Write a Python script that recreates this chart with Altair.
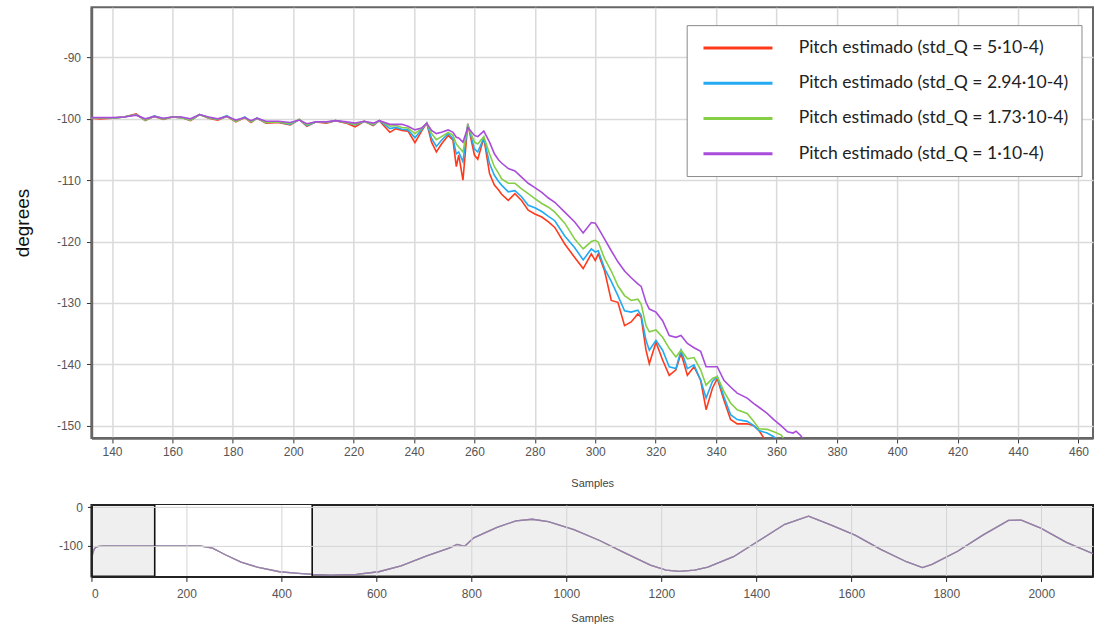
import altair as alt
import pandas as pd

# ---------------- data ----------------
samples = [133, 136, 140, 144, 148, 151, 154, 157, 160, 163, 166, 169, 172, 175, 178, 181, 184, 186, 188, 191,
           195, 199, 202, 204.5, 207.5, 211, 214, 217.5, 220.5, 223.5, 226.5, 228.5,
           232, 234, 236, 238, 240.3, 242.5, 244.2, 245.8, 247.4, 249.1,
           251.3, 252.9, 254, 254.8, 256.2, 257.8, 260, 261.1, 263.1, 265,
           266.6, 268, 269, 271.2, 273.4, 275.6, 277.8, 280, 282.3, 284.5,
           286.6, 289.9, 293.2, 296, 298.7, 300, 301, 303.1, 305.3, 307.5,
           309.7, 311.9, 314.1, 315.2, 316.8, 317.9, 320.1, 322.3, 324.5, 326.7,
           328.4, 330.5, 332.7, 334.9, 336.7, 338.8, 340.4, 342.6, 344.8, 347,
           350.3, 352.5, 354.2, 356.9, 359.1, 361.5, 363.7, 365.5, 366.5, 368, 370]

pitch_q5e4 = [-99.9, -100.0, -99.9, -99.7, -99.2, -100.3, -99.6, -100.1, -99.7, -99.8, -100.3, -99.3, -99.9, -100.2, -99.6, -100.5,
              -99.8, -100.6, -99.9, -100.7, -100.6, -101.0, -100.1, -101.2, -100.5, -100.7, -100.3, -100.7, -101.3, -100.4, -101.1, -100.3,
              -102.2, -101.6, -101.9, -102.0, -103.9, -102.0, -100.7, -103.8, -105.4, -104.1,
              -102.7, -103.5, -107.8, -105.9, -110.0, -100.8, -105.9, -106.6, -103.1, -108.9,
              -110.8, -111.6, -112.3, -113.3, -112.2, -113.3, -114.9, -115.5, -116.0, -116.8,
              -117.7, -120.4, -122.6, -124.4, -122.0, -123.1, -122.0, -124.8, -129.6, -129.9,
              -133.7, -133.1, -131.8, -132.3, -137.7, -139.9, -136.4, -139.3, -141.8, -140.9,
              -138.2, -141.8, -140.4, -142.6, -147.4, -143.9, -142.3, -145.8, -149.0, -149.7,
              -149.7, -150.0, -150.8, -152.8, -154.0, -155.0, -156.0, -157.0, -157.5, -158.0, -159.0]

pitch_q294e4 = [-99.9, -99.9, -99.9, -99.7, -99.3, -100.2, -99.5, -100.0, -99.7, -99.8, -100.2, -99.3, -99.8, -100.1, -99.5, -100.4,
                -99.7, -100.5, -99.9, -100.6, -100.5, -100.9, -100.1, -101.1, -100.5, -100.6, -100.3, -100.6, -101.0, -100.4, -101.0, -100.3,
                -101.6, -101.4, -101.7, -101.8, -103.1, -101.8, -100.7, -103.2, -104.5, -103.5,
                -102.4, -103.2, -105.7, -105.4, -107.0, -100.9, -104.9, -105.4, -103.1, -107.3,
                -109.2, -110.2, -110.8, -111.9, -111.7, -112.7, -114.1, -114.5, -115.1, -115.9,
                -116.6, -119.1, -121.0, -123.0, -121.2, -121.7, -121.5, -124.4, -126.5, -128.8,
                -131.3, -131.5, -131.2, -132.0, -136.1, -137.7, -136.1, -137.7, -140.4, -140.7,
                -137.7, -140.7, -140.1, -142.6, -145.5, -142.8, -142.0, -145.3, -148.2, -149.0,
                -149.3, -150.0, -150.8, -151.2, -151.8, -153.0, -154.0, -155.0, -155.5, -156.0, -157.0]

pitch_q173e4 = [-99.9, -99.9, -99.9, -99.7, -99.3, -100.2, -99.6, -100.0, -99.7, -99.8, -100.2, -99.3, -99.8, -100.1, -99.6, -100.4,
                -99.8, -100.5, -99.9, -100.6, -100.5, -100.8, -100.1, -101.0, -100.5, -100.6, -100.3, -100.6, -100.9, -100.4, -100.9, -100.3,
                -101.2, -101.1, -101.4, -101.5, -102.4, -101.6, -100.7, -102.4, -103.4, -102.9,
                -102.2, -102.7, -104.1, -104.6, -105.4, -101.1, -103.8, -104.1, -102.9, -105.7,
                -107.8, -108.9, -109.8, -110.5, -110.5, -111.4, -112.2, -113.0, -113.8, -114.4,
                -115.2, -117.0, -119.6, -121.2, -120.0, -119.8, -120.1, -122.8, -124.8, -127.2,
                -128.8, -129.6, -129.4, -130.2, -133.7, -134.7, -134.4, -135.6, -137.4, -138.8,
                -137.7, -139.1, -138.9, -140.9, -143.4, -142.3, -142.0, -144.4, -146.3, -147.4,
                -148.0, -149.3, -150.5, -150.6, -151.0, -151.5, -153.0, -154.0, -154.5, -155.0, -156.0]

pitch_q1e4 = [-99.8, -99.8, -99.8, -99.7, -99.4, -100.0, -99.6, -99.9, -99.7, -99.7, -100.0, -99.3, -99.7, -100.0, -99.6, -100.2,
              -99.8, -100.3, -99.9, -100.4, -100.4, -100.6, -100.2, -100.8, -100.5, -100.5, -100.3, -100.5, -100.7, -100.4, -100.7, -100.3,
              -100.9, -100.9, -100.9, -101.2, -101.8, -101.5, -100.7, -101.9, -102.4, -102.2,
              -101.8, -102.2, -103.0, -103.1, -103.8, -101.4, -102.7, -102.9, -102.0, -103.8,
              -105.7, -106.7, -107.2, -108.1, -108.5, -109.5, -110.5, -111.2, -112.0, -112.9,
              -113.6, -115.2, -116.8, -118.6, -116.9, -117.0, -117.8, -119.6, -121.5, -123.3,
              -124.8, -125.9, -126.9, -127.3, -129.9, -131.0, -131.5, -132.9, -135.3, -135.6,
              -135.3, -136.6, -137.3, -137.9, -140.4, -140.4, -140.4, -142.6, -143.7, -144.7,
              -145.5, -146.4, -147.0, -148.0, -149.0, -150.0, -151.0, -151.2, -150.9, -151.6, -153.0]

series_labels = ["Pitch estimado (std_Q = 5·10-4)",
                 "Pitch estimado (std_Q = 2.94·10-4)",
                 "Pitch estimado (std_Q = 1.73·10-4)",
                 "Pitch estimado (std_Q = 1·10-4)"]
series_values = [pitch_q5e4, pitch_q294e4, pitch_q173e4, pitch_q1e4]
line_colors = ["#ff3a1c", "#22aaf2", "#84cf45", "#a94cdc"]

# overview (navigator) trace over the whole record
overview_samples = [0, 3, 6, 10, 15, 25, 40, 80, 133, 180, 228, 255, 282, 315, 349, 396, 436, 466, 504, 558,
                    605, 652, 706, 753, 770, 786, 805, 854, 894, 928, 962, 1016, 1070, 1123, 1177, 1210, 1238,
                    1270, 1298, 1352, 1406, 1460, 1510, 1554, 1608, 1662, 1716, 1750, 1770, 1824, 1877, 1931,
                    1958, 1999, 2053, 2109]
overview_pitch = [-135, -118, -108, -103, -101, -100, -100, -100, -100, -100, -100, -106, -123, -142, -155, -167,
                  -171, -174, -176, -174, -167, -152, -126, -106, -96, -101, -79, -52, -35, -31, -37, -58, -86,
                  -118, -150, -163, -166, -163, -155, -128, -86, -44, -23, -44, -72, -109, -141, -156, -148,
                  -114, -72, -34, -33, -54, -91, -120]

window_start = [133.2]
window_end = [464.8]

# ---------------- tables ----------------
rows = []
for lab, vals in zip(series_labels, series_values):
    for s, v in zip(samples, vals):
        rows.append({"sample": s, "value": v, "series": lab})
df = pd.DataFrame(rows)

ov_rows = []
for lab in series_labels:
    for s, v in zip(overview_samples, overview_pitch):
        ov_rows.append({"sample": s, "value": v, "series": lab})
ov = pd.DataFrame(ov_rows)

win = pd.DataFrame({"start": window_start, "end": window_end})
edges = pd.DataFrame({"edge": window_start + window_end})

FONT = "Liberation Sans"
PLAIN = "'' + datum.value"

# ---------------- main panel ----------------
main = alt.Chart(df).mark_line(strokeWidth=1.6, clip=True).encode(
    x=alt.X("sample:Q",
            scale=alt.Scale(domain=[133.2, 464.8], nice=False, zero=False),
            axis=alt.Axis(values=list(range(140, 461, 20)), title="Samples", labelExpr=PLAIN,
                          labelFont=FONT, labelFontSize=12, labelColor="#555",
                          tickColor="#333", tickSize=5, labelPadding=4,
                          domainColor="#666", domainWidth=2.5,
                          gridColor="#dadada", gridWidth=1.5,
                          titleFont=FONT, titleFontSize=11, titleColor="#444",
                          titleFontWeight="normal", titlePadding=20)),
    y=alt.Y("value:Q",
            scale=alt.Scale(domain=[-152, -81.8], nice=False, zero=False),
            axis=alt.Axis(values=[-90, -100, -110, -120, -130, -140, -150], title="degrees",
                          labelExpr=PLAIN,
                          labelFont=FONT, labelFontSize=12, labelColor="#555",
                          tickColor="#333", tickSize=5, labelPadding=6,
                          domainColor="#666", domainWidth=2.5,
                          gridColor="#dadada", gridWidth=1.5,
                          titleFont=FONT, titleFontSize=19, titleColor="#111",
                          titleFontWeight="normal", titlePadding=24)),
    color=alt.Color("series:N",
                    scale=alt.Scale(domain=series_labels, range=line_colors),
                    legend=alt.Legend(title=None, orient="none", legendX=595.5, legendY=18,
                                      direction="vertical",
                                      symbolType="M-0.73,0H7.39", symbolSize=289,
                                      symbolStrokeWidth=3,
                                      labelFont="Lato", labelFontSize=17.6, labelColor="#222",
                                      labelOffset=79, labelLimit=600,
                                      rowPadding=16.2, padding=13,
                                      strokeColor="#8a8a8a", fillColor="white")),
).properties(width=1002, height=431,
             view=alt.ViewBackground(fill="white", stroke="#666", strokeWidth=2))

# ---------------- navigator ----------------
nav_x = alt.Scale(domain=[0, 2109], nice=False, zero=False)
nav_y = alt.Scale(domain=[-179, 6.2], nice=False, zero=False)
nav_x_axis = alt.Axis(values=list(range(0, 2001, 200)), title="Samples", zindex=1, labelExpr=PLAIN,
                      labelFont=FONT, labelFontSize=12, labelColor="#555",
                      tickColor="#222", tickSize=5, labelPadding=7,
                      domainColor="#222", domainWidth=2,
                      gridColor="#d4d4d4", gridWidth=1,
                      titleFont=FONT, titleFontSize=11, titleColor="#444",
                      titleFontWeight="normal", titlePadding=13)
nav_y_axis = alt.Axis(values=[0, -100], title=None, zindex=1, labelExpr=PLAIN,
                      labelFont=FONT, labelFontSize=12, labelColor="#555",
                      tickColor="#222", tickSize=4, labelPadding=5,
                      domainColor="#222", domainWidth=2,
                      gridColor="#d4d4d4", gridWidth=1)

shade = alt.Chart(win).mark_rect(color="white").encode(
    x=alt.X("start:Q", scale=nav_x, axis=nav_x_axis, title="Samples"),
    x2="end:Q",
)

ov_lines = alt.Chart(ov).mark_line(strokeWidth=1.3, opacity=0.55, clip=True).encode(
    x=alt.X("sample:Q", scale=nav_x, axis=nav_x_axis, title="Samples"),
    y=alt.Y("value:Q", scale=nav_y, axis=nav_y_axis),
    color=alt.Color("series:N", scale=alt.Scale(domain=series_labels, range=line_colors), legend=None),
)

edge_rules = alt.Chart(edges).mark_rule(color="#111", strokeWidth=1.6).encode(
    x=alt.X("edge:Q", scale=nav_x, axis=nav_x_axis, title="Samples"),
)

nav = alt.layer(shade, ov_lines, edge_rules).properties(
    width=1002, height=71.5,
    view=alt.ViewBackground(fill="#efefef", stroke="#222", strokeWidth=2))

chart = alt.vconcat(main, nav, spacing=10).resolve_scale(
    color="independent", x="independent", y="independent"
).properties(padding={"left": 11.5, "top": 6, "right": 0, "bottom": 0})

chart.save("out.html", embed_options={"renderer": "svg", "actions": False})
